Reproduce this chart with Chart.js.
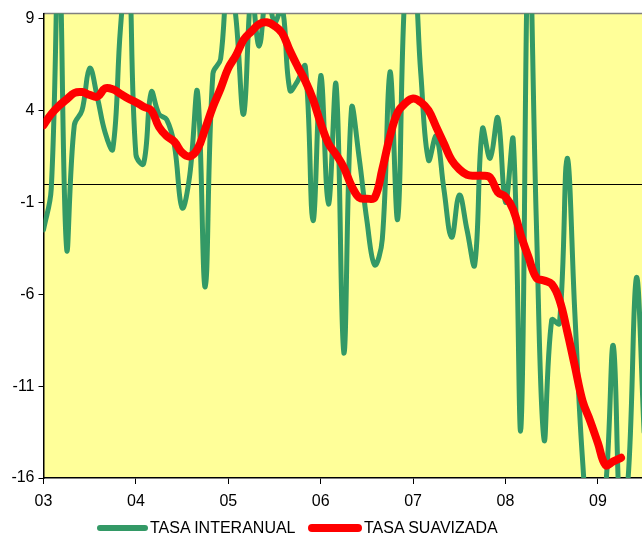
<!DOCTYPE html>
<html>
<head>
<meta charset="utf-8">
<script src="https://cdn.jsdelivr.net/npm/chart.js@4/dist/chart.umd.min.js"></script>
<style>
html,body{margin:0;padding:0;background:#fff;}
#wrap{position:relative;width:642px;height:543px;overflow:hidden;}
#legend{position:absolute;left:0;top:518px;width:642px;height:20px;font-family:"Liberation Sans",Arial,sans-serif;font-size:16px;color:#000;}
.sw{position:absolute;}
.tx{position:absolute;top:0;line-height:20px;white-space:nowrap;}
</style>
</head>
<body>
<div id="wrap">
<canvas id="c" width="642" height="543"></canvas>
<div id="legend">
  <div class="sw" style="left:97px;top:7px;width:51px;height:6px;border-radius:3px;background:#339966"></div>
  <div class="tx" style="left:150px">TASA INTERANUAL</div>
  <div class="sw" style="left:308px;top:6px;width:54px;height:8px;border-radius:4px;background:#FF0000"></div>
  <div class="tx" style="left:364px">TASA SUAVIZADA</div>
</div>
</div>
<script>
// Monthly series starting January 2003
const startYear = 2003;
const seriesNames = ["TASA INTERANUAL", "TASA SUAVIZADA"];
const tasaInteranual = [
  -2.5, -0.3, 13.0, -3.5, 3.2, 4.0, 6.3, 4.7, 2.8, 1.9, 8.5, 12.5,
  1.6, 1.1, 5.0, 3.8, 3.5, 2.1, -1.3, 0.5, 5.0, -5.6, 6.0, 6.8,
  12.0, 9.0, 3.8, 10.5, 7.5, 10.5, 8.8, 9.6, 5.1, 5.6, 6.4, -2.0,
  5.9, -1.1, 5.4, -9.2, 4.1, 1.4, -2.0, -4.4, -3.0, 6.1, -1.9, 11.0,
  12.0, 6.0, 1.3, 2.6, -0.3, -2.9, -0.6, -2.5, -4.4, 3.0, 1.4, 3.6,
  -1.0, 2.4, -13.3, 14.0, -2.0, -13.9, -7.4, -7.6, 1.4, -7.0, -15.0, -19.0,
  -18.0, -16.5, -8.8, -19.0, -15.5, -5.1, -13.5
];
const tasaSuavizada = [
  3.2, 3.8, 4.25, 4.6, 4.95, 5.0, 4.85, 4.75, 5.2, 5.15, 4.9, 4.65,
  4.45, 4.2, 4.0, 3.1, 2.6, 2.3, 1.7, 1.5, 1.9, 3.0, 4.2, 5.2,
  6.3, 7.0, 7.85, 8.3, 8.7, 8.8, 8.6, 8.2, 7.25, 6.4, 5.6, 4.6,
  3.3, 2.2, 1.6, 0.9, -0.1, -0.75, -0.8, -0.75, 0.8, 2.6, 3.9, 4.4,
  4.65, 4.45, 4.0, 3.1, 2.2, 1.3, 0.8, 0.5, 0.45, 0.45, 0.35, -0.45,
  -0.7, -1.4, -2.8, -4.0, -5.1, -5.25, -5.45, -6.3, -8.0, -9.9, -11.8, -12.9,
  -14.1, -15.3, -15.1, -14.9
];
const xTickYears = [2003, 2004, 2005, 2006, 2007, 2008, 2009];
const xTickLabels = ["03", "04", "05", "06", "07", "08", "09"];
const yTicks = [-16, -11, -6, -1, 4, 9];

const toPoints = arr => arr.map((v, i) => ({x: startYear + i / 12, y: v}));

const plotDeco = {
  id: 'plotDeco',
  beforeDraw(chart) {
    const {ctx, chartArea: a} = chart;
    ctx.save();
    ctx.fillStyle = '#FFFF99';
    ctx.fillRect(a.left, a.top, a.right - a.left, a.bottom - a.top);
    ctx.strokeStyle = '#808080';
    ctx.lineWidth = 1.5;
    ctx.beginPath();
    ctx.moveTo(a.left, a.top);
    ctx.lineTo(a.right, a.top);
    ctx.stroke();
    ctx.restore();
  },
  beforeDatasetsDraw(chart) {
    const {ctx, chartArea: a, scales} = chart;
    const y0 = scales.y.getPixelForValue(0);
    ctx.save();
    ctx.strokeStyle = '#000';
    ctx.lineWidth = 1;
    ctx.beginPath();
    ctx.moveTo(a.left, Math.round(y0) + 0.5);
    ctx.lineTo(a.right, Math.round(y0) + 0.5);
    ctx.stroke();
    ctx.restore();
  }
};

const font = {family: '"Liberation Sans", Arial, sans-serif', size: 16};

new Chart(document.getElementById('c'), {
  type: 'line',
  data: {
    datasets: [
      {label: seriesNames[0], data: toPoints(tasaInteranual), borderColor: '#339966', borderWidth: 5, order: 2},
      {label: seriesNames[1], data: toPoints(tasaSuavizada), borderColor: '#FF0000', borderWidth: 8, order: 1}
    ]
  },
  options: {
    responsive: false,
    animation: false,
    layout: {padding: {top: 11, left: 0, right: 0, bottom: 0}},
    elements: {
      point: {radius: 0, hoverRadius: 0},
      line: {tension: 0.4, capBezierPoints: false, borderCapStyle: 'round', borderJoinStyle: 'round', fill: false}
    },
    plugins: {legend: {display: false}, tooltip: {enabled: false}},
    scales: {
      x: {
        type: 'linear',
        min: 2003,
        max: 2009.477,
        afterBuildTicks: s => { s.ticks = xTickYears.map(v => ({value: v})); },
        afterFit: s => { s.height = 65; },
        ticks: {callback: (v, i) => xTickLabels[i], font: font, color: '#000', padding: 8, maxRotation: 0, autoSkip: false},
        grid: {drawOnChartArea: false, drawTicks: true, tickLength: 6, color: '#000', lineWidth: 1},
        border: {display: true, color: '#000', width: 1.5}
      },
      y: {
        min: -16,
        max: 9.27,
        afterBuildTicks: s => { s.ticks = yTicks.map(v => ({value: v})); },
        afterFit: s => { s.width = 43.5; },
        ticks: {font: font, color: '#000', padding: 4},
        grid: {drawOnChartArea: false, drawTicks: true, tickLength: 5, color: '#000', lineWidth: 1},
        border: {display: true, color: '#000', width: 1.5}
      }
    }
  },
  plugins: [plotDeco]
});
</script>
</body>
</html>
